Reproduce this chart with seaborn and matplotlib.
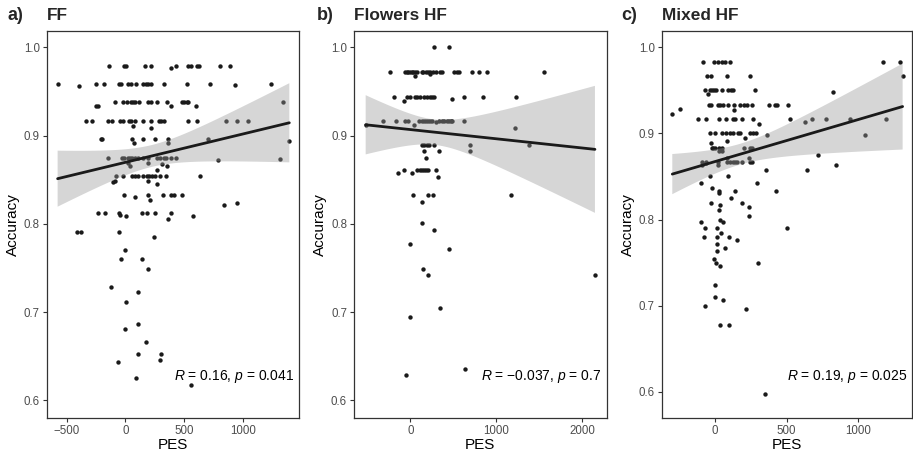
import matplotlib
matplotlib.use("Agg")
import matplotlib.pyplot as plt
from matplotlib.ticker import FormatStrFormatter
import numpy as np
import pandas as pd
import seaborn as sns

# ---------------- data ----------------
pes_ff = [
    -140, -11, 9, 166, 220, 391, 434, 534, 557, 611, 631, 803, 889,
    -577, -397, -254, -180, -54, -37, 23, 49, 91, 154, 177, 197, 217, 331, 526, 717, 934, 1243,
    -254, -231, -89, -23, 11, 46, 63, 83, 120, 191, 220, 269, 351, 389, 480, 500, 526, 534, 603, 1340,
    -331, -280, -146, -111, -46, -23, 29, 46, 69, 83, 149, 220, 220, 289, 306, 331, 534, 611, 854, 954, 1046,
    -209, -197, 54, 74, 154, 249, 363, 363, 703, 1397,
    -146, -26, -9, 20, 40, 60, 83, 106, 154, 191, 269, 297, 326, 346, 389, 431, 789, 1320,
    26, 40, 191, 269, 311, 354,
    -103, -89, -83, -23, 60, 83, 111, 154, 183, 197, 203, 226, 254, 269, 297, 346, 640,
    -11, 83, 197, 211, 317, 391, 411, 483,
    -237, -174, -54, -46, 3, 140, 183, 249, 360, 389, 577, 840, 954,
    -414, -374, -51, 240, 0, -40, 140, 197, -126, 106, 9, 106, 0, 174, 106, 303, 291, -66, 94, 563,
]
acc_ff = [
    0.979, 0.979, 0.979, 0.979, 0.979, 0.976, 0.979, 0.979, 0.979, 0.979, 0.979, 0.979, 0.979,
    0.958, 0.956, 0.958, 0.958, 0.958, 0.958, 0.958, 0.958, 0.958, 0.958, 0.958, 0.958, 0.958, 0.958, 0.958, 0.958, 0.957, 0.958,
    0.933, 0.934, 0.938, 0.938, 0.938, 0.938, 0.938, 0.938, 0.938, 0.938, 0.938, 0.938, 0.938, 0.934, 0.938, 0.938, 0.938, 0.938, 0.933, 0.938,
    0.917, 0.917, 0.917, 0.917, 0.917, 0.917, 0.917, 0.917, 0.911, 0.917, 0.917, 0.917, 0.909, 0.917, 0.917, 0.917, 0.917, 0.917, 0.917, 0.917, 0.917,
    0.896, 0.896, 0.896, 0.892, 0.896, 0.896, 0.896, 0.892, 0.896, 0.894,
    0.875, 0.875, 0.875, 0.875, 0.875, 0.875, 0.875, 0.875, 0.875, 0.875, 0.875, 0.875, 0.875, 0.875, 0.875, 0.875, 0.872, 0.873,
    0.869, 0.866, 0.869, 0.861, 0.868, 0.865,
    0.847, 0.849, 0.854, 0.854, 0.854, 0.854, 0.854, 0.854, 0.854, 0.848, 0.854, 0.854, 0.854, 0.845, 0.854, 0.854, 0.854,
    0.833, 0.830, 0.833, 0.827, 0.833, 0.833, 0.833, 0.833,
    0.8125, 0.8125, 0.8125, 0.810, 0.809, 0.8125, 0.8125, 0.8125, 0.805, 0.8125, 0.809, 0.821, 0.823,
    0.791, 0.791, 0.791, 0.785, 0.770, 0.760, 0.760, 0.749, 0.728, 0.723, 0.711, 0.687, 0.681, 0.666, 0.652, 0.652, 0.646, 0.643, 0.625, 0.617,
]

pes_flowers = [
    275, 450,
    -233, -58, -43, -23, -4, 16, 35, 54, 54, 81, 132, 151, 182, 209, 229, 229, 267, 295, 345, 372, 512, 539, 566, 721, 802, 899, 1554,
    -194, -74, -43, -4, 54, 74, 112, 159, 190, 229, 256, 279, 488, 620, 849, 1236,
    -520, -314, -171, -58, -23, 47, 105, 136, 163, 186, 209, 229, 256, 302, 337, 364, 391, 422, 450, 473, 488, 620, 1225,
    136, 159, 190, 221, 275, 698, 1384, 337, 159, 698, 182,
    -140, -70, 23, 81, 112, 136, 159, 182, 209, 302, 318,
    35, 209, 267, 1171, 132, 140,
    279, 0, 450, 151, 202, 2151, 349, 0, 636, -50,
]
acc_flowers = [
    1.000, 1.000,
    0.972, 0.972, 0.972, 0.972, 0.972, 0.972, 0.972, 0.972, 0.968, 0.972, 0.972, 0.972, 0.972, 0.972, 0.972, 0.970, 0.972, 0.972, 0.972, 0.972, 0.972, 0.972, 0.972, 0.972, 0.972, 0.972, 0.972,
    0.944, 0.939, 0.944, 0.944, 0.944, 0.944, 0.944, 0.944, 0.944, 0.944, 0.944, 0.944, 0.941, 0.944, 0.944, 0.944,
    0.912, 0.917, 0.917, 0.917, 0.917, 0.912, 0.917, 0.917, 0.917, 0.917, 0.917, 0.917, 0.917, 0.915, 0.917, 0.917, 0.917, 0.917, 0.917, 0.917, 0.917, 0.917, 0.909,
    0.889, 0.889, 0.889, 0.889, 0.889, 0.889, 0.889, 0.883, 0.883, 0.883, 0.875,
    0.858, 0.861, 0.858, 0.861, 0.861, 0.861, 0.861, 0.861, 0.861, 0.861, 0.853,
    0.833, 0.833, 0.833, 0.833, 0.825, 0.801,
    0.793, 0.777, 0.771, 0.749, 0.742, 0.742, 0.705, 0.694, 0.636, 0.629,
]

pes_mixed = [
    -81, -9, 19, 47, 70, 102, 1174, 1291,
    -53, -28, 86, 247, 1309,
    -72, -49, -37, -23, -9, 5, 47, 93, 112, 123, 277, 821,
    -298, -242, -42, -28, 19, 35, 58, 93, 135, 135, 172, 202, 221, 258, 379, 419, 433, 507,
    -116, -60, 28, 74, 128, 140, 191, 263, 309, 526, 630, 674, 774, 942, 1193,
    -35, -28, 0, 47, 77, 86, 102, 123, 158, 177, 209, 247, 263, 286, 360, 1047,
    -23, -12, 0, 26, 28, 47, 47, 200, 247, 258,
    -88, -63, 19, 86, 86, 107, 123, 140, 156, 186, 237, 247, 256, 719,
    -88, -60, 19, 356, 640, 842,
    -33, 93, -100, 291, -23, 28, 140, 423, 28, 112, -28, 186, 237, 35, 28, 240, 37, 56,
    -98, -70, 14, 500, -77, 16, 100, 40, 153, 16, 70, 14, -9, 5, 298, 37, 0, 0, 53, -70, 216, 37, 100,
    351,
]
acc_mixed = [
    0.983, 0.983, 0.983, 0.983, 0.983, 0.983, 0.983, 0.983,
    0.967, 0.967, 0.967, 0.967, 0.967,
    0.950, 0.946, 0.950, 0.950, 0.950, 0.950, 0.950, 0.950, 0.950, 0.950, 0.950, 0.948,
    0.922, 0.928, 0.933, 0.933, 0.933, 0.933, 0.933, 0.933, 0.933, 0.927, 0.933, 0.933, 0.933, 0.933, 0.933, 0.933, 0.933, 0.933,
    0.917, 0.917, 0.917, 0.917, 0.917, 0.917, 0.917, 0.917, 0.911, 0.917, 0.913, 0.917, 0.917, 0.917, 0.917,
    0.900, 0.889, 0.900, 0.900, 0.900, 0.891, 0.900, 0.900, 0.900, 0.900, 0.895, 0.900, 0.900, 0.900, 0.898, 0.898,
    0.883, 0.883, 0.883, 0.883, 0.879, 0.883, 0.879, 0.883, 0.883, 0.883,
    0.867, 0.867, 0.867, 0.867, 0.871, 0.867, 0.867, 0.867, 0.867, 0.867, 0.871, 0.867, 0.867, 0.875,
    0.863, 0.866, 0.863, 0.857, 0.857, 0.863,
    0.850, 0.850, 0.842, 0.842, 0.837, 0.833, 0.833, 0.833, 0.831, 0.825, 0.819, 0.819, 0.814, 0.817, 0.811, 0.804, 0.800, 0.797,
    0.797, 0.790, 0.790, 0.790, 0.780, 0.780, 0.780, 0.784, 0.776, 0.772, 0.767, 0.763, 0.754, 0.750, 0.750, 0.746, 0.724, 0.710, 0.707, 0.700, 0.696, 0.678, 0.678,
    0.597,
]

panel_tags = ["a)", "b)", "c)"]
panel_titles = ["FF", "Flowers HF", "Mixed HF"]
stat_labels = ["$R$ = 0.16, $p$ = 0.041", "$R$ = \u22120.037, $p$ = 0.7", "$R$ = 0.19, $p$ = 0.025"]
x_ticks = [[-500, 0, 500, 1000], [0, 1000, 2000], [0, 500, 1000]]
y_ticks = [0.6, 0.7, 0.8, 0.9, 1.0]

# ---------------- style ----------------
sns.set_theme(style="white")
plt.rcParams["font.family"] = ["Liberation Sans", "DejaVu Sans"]
plt.rcParams["mathtext.fontset"] = "custom"
plt.rcParams["mathtext.it"] = "Liberation Sans:italic"
plt.rcParams["mathtext.rm"] = "Liberation Sans"
plt.rcParams["axes.unicode_minus"] = True

W, H = 913, 455
fig = plt.figure(figsize=(W / 100, H / 100), dpi=100)

datasets = [(pes_ff, acc_ff), (pes_flowers, acc_flowers), (pes_mixed, acc_mixed)]
rects_px = [(46.7, 299.3), (354.0, 606.7), (661.7, 911.5)]
top_px, bot_px = 30.7, 418.3
xlims = [(-670, 1482), (-656, 2288), (-372, 1371)]
ylims = [(0.5796, 1.0188), (0.5796, 1.0188), (0.5691, 1.0193)]
tag_x_px = [8, 316.7, 621.7]
T_CRIT = 1.978  # two-sided 95% t quantile for n of about 100-165


def lm_band(x, y, grid):
    """Analytic 95% confidence band of an OLS fit (as in geom_smooth(method='lm'))."""
    x = np.asarray(x, float)
    y = np.asarray(y, float)
    n = len(x)
    b1, b0 = np.polyfit(x, y, 1)
    resid = y - (b0 + b1 * x)
    s = np.sqrt(np.sum(resid ** 2) / (n - 2))
    sxx = np.sum((x - x.mean()) ** 2)
    fit = b0 + b1 * grid
    se = s * np.sqrt(1.0 / n + (grid - x.mean()) ** 2 / sxx)
    return fit - T_CRIT * se, fit + T_CRIT * se


for i, (pes, acc) in enumerate(datasets):
    l, r = rects_px[i]
    ax = fig.add_axes([l / W, 1 - bot_px / H, (r - l) / W, (bot_px - top_px) / H])
    df = pd.DataFrame({"PES": pes, "Accuracy": acc})
    sns.regplot(data=df, x="PES", y="Accuracy", ax=ax, ci=None,
                scatter_kws=dict(s=10, color="#1a1a1a", linewidths=0, alpha=1, zorder=1),
                line_kws=dict(color="#1a1a1a", lw=2.0, zorder=3))
    grid = np.linspace(df["PES"].min(), df["PES"].max(), 200)
    lo, hi = lm_band(df["PES"], df["Accuracy"], grid)
    ax.fill_between(grid, lo, hi, facecolor=(0.6, 0.6, 0.6), alpha=0.4,
                    edgecolor="none", zorder=2)
    ax.set_xlim(*xlims[i])
    ax.set_ylim(*ylims[i])
    ax.set_xticks(x_ticks[i])
    ax.set_yticks(y_ticks)
    ax.yaxis.set_major_formatter(FormatStrFormatter("%.1f"))
    for sp in ax.spines.values():
        sp.set_visible(True)
        sp.set_color("#333333")
        sp.set_linewidth(0.9)
    ax.tick_params(axis="both", which="major", bottom=True, left=True, direction="out",
                   length=3.0, width=0.8, color="#333333", labelcolor="#4d4d4d",
                   labelsize=8.3, pad=2.0)
    ax.set_xlabel("PES", fontsize=11, color="black")
    ax.set_ylabel("Accuracy", fontsize=11, color="black")
    ax.xaxis.set_label_coords(0.5, -0.05)
    ax.yaxis.set_label_coords(-34.0 / (r - l), 0.5)
    ax.yaxis.label.set_verticalalignment("center")
    ax.set_title(panel_titles[i], loc="left", fontweight="bold", fontsize=12.4, pad=7.5)
    ax.text(0.503, 0.10, stat_labels[i], transform=ax.transAxes, ha="left", va="baseline",
            fontsize=10, color="black", zorder=5)
    fig.text(tag_x_px[i] / W, 1 - 20 / H, panel_tags[i], fontweight="bold", fontsize=13,
             va="baseline", ha="left")

fig.savefig("out.png", dpi=100)
